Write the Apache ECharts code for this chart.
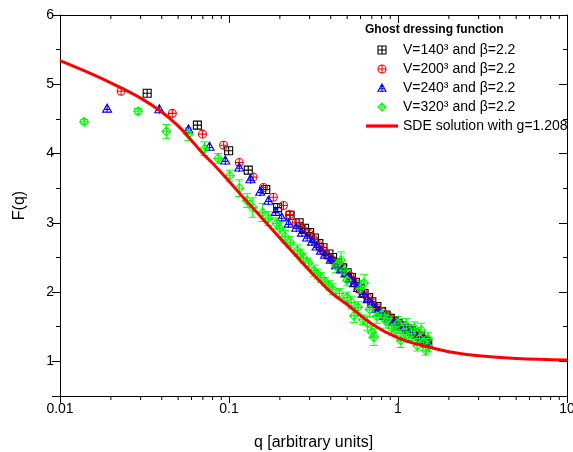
<!DOCTYPE html>
<html>
<head>
<meta charset="utf-8">
<script src="https://cdn.jsdelivr.net/npm/echarts@6/dist/echarts.min.js"></script>
<style>html,body{margin:0;padding:0;background:#fff;}#chart{width:573px;height:452px;}</style>
</head>
<body>
<div id="chart"></div>
<script>
// ---- data ----
const qMin = 0.01, qMax = 10, fMin = 0.5, fMax = 6;
const xMinorTicks = [0.02,0.03,0.04,0.05,0.06,0.07,0.08,0.09,0.2,0.3,0.4,0.5,0.6,0.7,0.8,0.9,2,3,4,5,6,7,8,9];

const seriesNames = ['V=140³ and β=2.2','V=200³ and β=2.2','V=240³ and β=2.2','V=320³ and β=2.2','SDE solution with g=1.208'];

const blackQ = [0.0328,0.065,0.0995,0.130,0.165,0.194,0.23,0.26,0.28,0.30,0.32,0.34,0.36,0.39,0.41,0.44,0.47,0.50,0.53,0.56,0.60,0.63,0.67,0.70,0.75,0.80,0.85,0.90,0.95,1.0,1.06,1.13,1.2,1.27,1.35,1.42,1.46,1.5];
const blackF = [4.87,4.41,4.04,3.76,3.48,3.22,3.11,3.00,2.92,2.86,2.78,2.70,2.64,2.55,2.50,2.42,2.35,2.28,2.21,2.14,2.05,1.98,1.92,1.86,1.79,1.72,1.67,1.62,1.58,1.55,1.51,1.47,1.44,1.40,1.36,1.31,1.29,1.26];

const redQ = [0.0230,0.0462,0.0697,0.093,0.115,0.139,0.160,0.183,0.210,0.228,0.250,0.27,0.297,0.318,0.34,0.36,0.38,0.405,0.43,0.46,0.49,0.52,0.54,0.58,0.62,0.66,0.70,0.75,0.80,0.86,0.92,1.0,1.08,1.17,1.27,1.38,1.48];
const redF = [4.90,4.58,4.28,4.12,3.87,3.66,3.51,3.37,3.25,3.12,3.00,2.93,2.85,2.76,2.67,2.60,2.53,2.47,2.41,2.34,2.28,2.23,2.17,2.05,1.99,1.92,1.85,1.77,1.72,1.66,1.60,1.55,1.51,1.47,1.42,1.36,1.29];

const blueQ = [0.0190,0.0387,0.0575,0.0767,0.0951,0.115,0.134,0.153,0.171,0.189,0.205,0.225,0.25,0.27,0.29,0.31,0.33,0.35,0.37,0.40,0.43,0.46,0.49,0.52,0.55,0.58,0.62,0.66,0.70,0.74,0.78,0.83,0.88,0.94,1.0,1.07,1.15,1.22,1.3,1.38,1.45,1.5];
const blueF = [4.65,4.64,4.35,4.10,3.90,3.80,3.63,3.45,3.32,3.16,3.08,2.99,2.93,2.86,2.79,2.73,2.66,2.60,2.54,2.47,2.39,2.33,2.27,2.20,2.13,2.06,1.98,1.90,1.83,1.76,1.70,1.66,1.62,1.57,1.52,1.50,1.46,1.43,1.39,1.35,1.30,1.26];

const greenQ = [0.0139,0.0290,0.0426,0.0575,0.0716,0.0863,0.101,0.115,0.128,0.138,0.158,0.171,0.191,0.200,0.215,0.230,0.254,0.265,0.276,0.295,0.320,0.335,0.350,0.370,0.390,0.410,0.430,0.46,0.48,0.45,0.50,0.50,0.53,0.55,0.58,0.60,0.63,0.62,0.66,0.68,0.70,0.72,0.75,0.80,0.85,0.87,0.92,0.97,1.00,1.04,1.08,1.12,1.16,1.20,1.25,1.30,1.34,1.37,1.42,1.46,1.50,1.50];
const greenF = [4.46,4.61,4.32,4.28,4.07,3.93,3.68,3.50,3.32,3.22,3.15,3.06,2.99,2.92,2.80,2.72,2.60,2.55,2.49,2.42,2.31,2.26,2.21,2.15,2.10,2.04,2.38,2.46,2.31,1.98,1.92,2.17,1.85,1.66,1.78,2.05,2.13,1.60,1.55,1.75,1.42,1.35,1.65,1.68,1.58,1.62,1.48,1.45,1.55,1.30,1.42,1.52,1.35,1.40,1.48,1.23,1.33,1.45,1.28,1.16,1.33,1.22];
const greenErr = [0.03,0.04,0.10,0.09,0.10,0.07,0.08,0.12,0.10,0.14,0.13,0.10,0.08,0.08,0.09,0.08,0.08,0.07,0.07,0.07,0.08,0.07,0.07,0.06,0.07,0.08,0.10,0.12,0.08,0.07,0.08,0.08,0.09,0.10,0.08,0.12,0.12,0.07,0.10,0.10,0.08,0.12,0.10,0.08,0.10,0.08,0.10,0.08,0.10,0.10,0.09,0.10,0.08,0.10,0.09,0.08,0.10,0.10,0.08,0.07,0.09,0.08];

const sdeQ = [0.01,0.015,0.02,0.03,0.04,0.05,0.06,0.07,0.08,0.1,0.12,0.15,0.2,0.25,0.3,0.4,0.5,0.7,1.0,1.5,2,3,5,10];
const sdeF = [5.34,5.16,5.02,4.80,4.60,4.40,4.19,4.00,3.86,3.60,3.38,3.12,2.78,2.52,2.31,2.00,1.82,1.54,1.34,1.21,1.14,1.08,1.04,1.02];

// ---- build ----
const zip = (a, b) => a.map((v, i) => [v, b[i]]);
const FONT = '"Liberation Sans", Arial, sans-serif';

const symSquare = 'path://M0,0L10,0L10,10L0,10Z M5,0L5,10 M0,5L10,5';
const symCircle = 'path://M0,5A5,5,0,1,1,10,5A5,5,0,1,1,0,5Z M5,0L5,10 M0,5L10,5';
const symTri = 'path://M5,0L10,9L0,9Z M5,0L5,10 M2,6L8,6';
const symDiamond = 'path://M5,0L10,5L5,10L0,5Z M5,0L5,10 M0,5L10,5';
const colors = ['#000000', '#ff0000', '#0000ff', '#00ff00'];

function scatter(name, q, f, sym, size, color) {
  return {
    name: name, type: 'scatter', data: zip(q, f), symbol: sym, symbolSize: size,
    itemStyle: { color: 'rgba(0,0,0,0)', borderColor: color, borderWidth: 1.1, opacity: 1 },
    emphasis: { disabled: true }, z: 3
  };
}
function legendItem(i, sym) {
  return { name: seriesNames[i], icon: sym,
    itemStyle: { color: 'rgba(0,0,0,0)', borderColor: colors[i], borderWidth: 1.1 } };
}

const chart = echarts.init(document.getElementById('chart'), null, { renderer: 'canvas' });
const option = {
  animation: false,
  backgroundColor: '#fff',
  title: {
    text: 'Ghost dressing function', left: 365, top: 24, padding: 0,
    textStyle: { fontFamily: FONT, fontSize: 12, fontWeight: 'bold', color: '#000' }
  },
  legend: {
    data: [
      legendItem(0, symSquare),
      legendItem(1, symCircle),
      legendItem(2, symTri),
      legendItem(3, symDiamond),
      { name: seriesNames[4], icon: 'path://M0,0L32,0L32,3.2L0,3.2Z', itemStyle: { color: '#ff0000', borderWidth: 0 } }
    ],
    orient: 'vertical', left: 366, top: 43, padding: 0,
    itemWidth: 32, itemHeight: 8, itemGap: 5, selectedMode: false,
    textStyle: { fontFamily: FONT, fontSize: 14, color: '#000', lineHeight: 14 }
  },
  grid: { left: 60, right: 6, top: 15, bottom: 56, containLabel: false, outerBoundsMode: 'none' },
  xAxis: [{
    type: 'log', logBase: 10, min: qMin, max: qMax,
    name: 'q [arbitrary units]', nameLocation: 'middle', nameGap: 39,
    nameTextStyle: { fontFamily: FONT, fontSize: 16, color: '#000' },
    axisLine: { show: true, onZero: false, lineStyle: { color: '#000', width: 1 } },
    axisTick: { show: true, inside: false, length: 7, lineStyle: { color: '#000' } },
    axisLabel: { fontFamily: FONT, fontSize: 14, color: '#000', margin: 6, formatter: v => String(v) },
    splitLine: { show: false }
  }, {
    type: 'log', logBase: 10, min: qMin, max: qMax, position: 'top',
    axisLine: { show: true, onZero: false, lineStyle: { color: '#000', width: 1 } },
    axisTick: { show: true, inside: true, length: 8, lineStyle: { color: '#000' } },
    axisLabel: { show: false }, splitLine: { show: false }
  }],
  yAxis: [{
    type: 'value', min: fMin, max: fMax, splitNumber: 5,
    name: 'F(q)', nameLocation: 'middle', nameGap: 32,
    nameTextStyle: { fontFamily: FONT, fontSize: 16, color: '#000' },
    axisLine: { show: true, onZero: false, lineStyle: { color: '#000', width: 1 } },
    axisTick: { show: true, inside: false, length: 8, lineStyle: { color: '#000' } },
    minorTick: { show: true, splitNumber: 2, length: 4, lineStyle: { color: '#000' } },
    axisLabel: { fontFamily: FONT, fontSize: 14, color: '#000', margin: 6,
      formatter: v => (Math.abs(v - Math.round(v)) < 1e-9 ? String(Math.round(v)) : '') },
    splitLine: { show: false }
  }, {
    type: 'value', min: fMin, max: fMax, splitNumber: 5, position: 'right',
    axisLine: { show: true, onZero: false, lineStyle: { color: '#000', width: 1 } },
    axisTick: { show: true, inside: true, length: 8, lineStyle: { color: '#000' } },
    minorTick: { show: true, splitNumber: 2, length: 4, lineStyle: { color: '#000' } },
    axisLabel: { show: false }, splitLine: { show: false }
  }],
  series: [
    {
      type: 'custom', name: 'xminor', silent: true, clip: false, z: 1,
      data: xMinorTicks.map(v => [v]),
      encode: { x: 0 },
      renderItem: function (params, api) {
        const b = api.coord([api.value(0), fMin]);
        const t = api.coord([api.value(0), fMax]);
        return { type: 'group', children: [
          { type: 'line', shape: { x1: b[0], y1: b[1], x2: b[0], y2: b[1] + 4 }, style: { stroke: '#000', lineWidth: 1 } },
          { type: 'line', shape: { x1: t[0], y1: t[1], x2: t[0], y2: t[1] + 4 }, style: { stroke: '#000', lineWidth: 1 } }
        ] };
      }
    },
    scatter(seriesNames[0], blackQ, blackF, symSquare, 8, colors[0]),
    scatter(seriesNames[1], redQ, redF, symCircle, 8, colors[1]),
    scatter(seriesNames[2], blueQ, blueF, symTri, 9, colors[2]),
    {
      type: 'custom', name: 'greenErr', silent: true, z: 3,
      data: greenQ.map((q, i) => [q, greenF[i], greenErr[i]]),
      encode: { x: 0, y: 1 },
      renderItem: function (params, api) {
        const q = api.value(0), f = api.value(1), e = api.value(2);
        const top = api.coord([q, f + e]);
        const bot = api.coord([q, f - e]);
        const w = 4;
        const st = { stroke: '#00ff00', lineWidth: 1 };
        return { type: 'group', children: [
          { type: 'line', shape: { x1: top[0], y1: top[1], x2: bot[0], y2: bot[1] }, style: st },
          { type: 'line', shape: { x1: top[0] - w, y1: top[1], x2: top[0] + w, y2: top[1] }, style: st },
          { type: 'line', shape: { x1: bot[0] - w, y1: bot[1], x2: bot[0] + w, y2: bot[1] }, style: st }
        ] };
      }
    },
    scatter(seriesNames[3], greenQ, greenF, symDiamond, 9, colors[3]),
    {
      name: seriesNames[4], type: 'line', data: zip(sdeQ, sdeF), smooth: 0.4,
      showSymbol: false, symbol: 'none',
      lineStyle: { color: '#ff0000', width: 3 }, itemStyle: { color: '#ff0000' },
      emphasis: { disabled: true }, z: 5
    }
  ]
};
chart.setOption(option);
</script>
</body>
</html>
